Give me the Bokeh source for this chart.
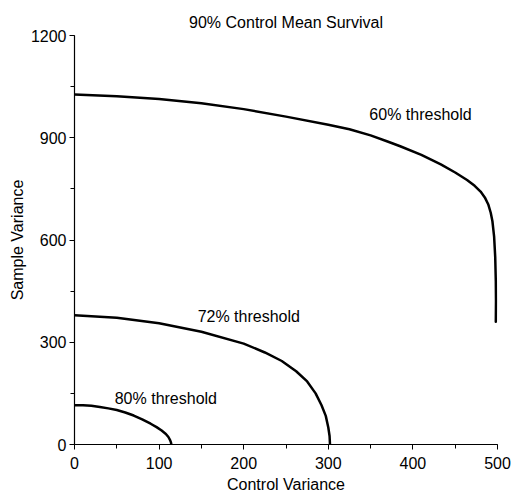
from bokeh.plotting import figure
from bokeh.models import Range1d, SingleIntervalTicker, Label
from bokeh.embed import file_html
from bokeh.resources import INLINE

FONT = "Liberation Sans"

# Threshold contours: control variance (x) vs sample variance (y)
ctrl_60 = [0, 50, 100, 150, 200, 250, 300, 325, 350, 370, 385, 410, 433, 450, 464,
           473, 480, 485, 489, 492, 494, 496, 497.3, 498, 498.2, 498]
samp_60 = [1027, 1022, 1014, 1001, 984, 962, 938, 925, 907, 889, 875, 850, 822, 798, 776,
           759, 742, 725, 705, 680, 655, 610, 550, 480, 420, 360]

ctrl_72 = [0, 50, 100, 150, 200, 225, 245, 262, 275, 285, 292, 297, 300, 301.5, 302]
samp_72 = [379, 372, 356, 331, 296, 270, 245, 215, 185, 150, 115, 84, 50, 25, 0]

ctrl_80 = [0, 10, 20, 30, 40, 50, 60, 70, 80, 90, 97, 103, 108, 111, 113, 114, 114.5]
samp_80 = [115, 115.5, 113.5, 110, 106, 101, 94, 85, 74, 61, 51, 41, 31, 22, 13, 6, 0]

curve_labels = ["60% threshold", "72% threshold", "80% threshold"]
label_x = [409, 206, 108]
label_y = [968, 375, 135]

p = figure(
    width=513, height=495,
    output_backend="svg", toolbar_location=None,
    x_range=Range1d(0, 500), y_range=Range1d(0, 1200),
    min_border_left=74, min_border_right=16,
    min_border_top=35, min_border_bottom=46,
    title="90% Control Mean Survival",
)
p.outline_line_color = None
p.grid.visible = False
p.background_fill_color = "white"
p.border_fill_color = "white"

p.title.text_font = FONT
p.title.text_font_size = "16px"
p.title.text_font_style = "normal"
p.title.align = "center"
p.title.text_color = "black"

for ax in (p.xaxis[0], p.yaxis[0]):
    ax.axis_line_color = "black"
    ax.axis_line_width = 1.2
    ax.major_tick_line_color = "black"
    ax.minor_tick_line_color = "black"
    ax.major_tick_in = 0
    ax.major_tick_out = 5
    ax.minor_tick_in = 0
    ax.minor_tick_out = 4
    ax.major_label_text_font = FONT
    ax.major_label_text_font_size = "16px"
    ax.major_label_text_color = "black"
    ax.axis_label_text_font = FONT
    ax.axis_label_text_font_size = "16px"
    ax.axis_label_text_font_style = "normal"
    ax.axis_label_text_color = "black"

p.xaxis[0].ticker = SingleIntervalTicker(interval=100, num_minor_ticks=2)
p.yaxis[0].ticker = SingleIntervalTicker(interval=300, num_minor_ticks=2)
p.xaxis.axis_label = "Control Variance"
p.yaxis.axis_label = "Sample Variance"
p.xaxis.major_label_standoff = 7
p.yaxis.major_label_standoff = 3
p.xaxis.axis_label_standoff = 4
p.yaxis.axis_label_standoff = 2

for xs, ys in ((ctrl_60, samp_60), (ctrl_72, samp_72), (ctrl_80, samp_80)):
    p.line(xs, ys, line_color="black", line_width=2.5, line_join="round", line_cap="round")

for txt, lx, ly in zip(curve_labels, label_x, label_y):
    p.add_layout(Label(x=lx, y=ly, text=txt, text_align="center", text_baseline="middle",
                       text_font=FONT, text_font_size="16px", text_color="black"))

open("out.html", "w").write(file_html(p, INLINE))
